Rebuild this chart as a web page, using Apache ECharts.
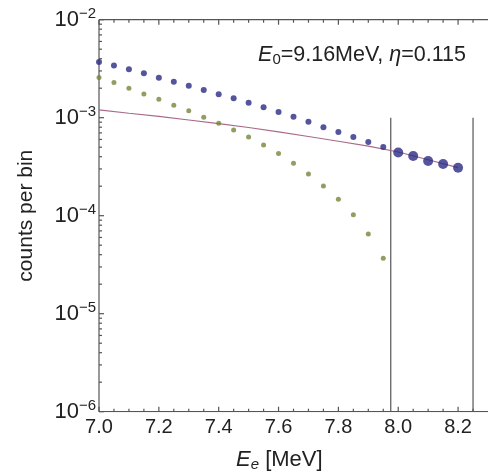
<!DOCTYPE html>
<html><head><meta charset="utf-8">
<script src="https://cdn.jsdelivr.net/npm/echarts@6/dist/echarts.min.js"></script>
<style>html,body{margin:0;padding:0;background:#fff}#c{width:488px;height:473px;background:#fff}</style>
</head><body><div id="c"></div>
<script>
// ---- data ----
const energies = [7.00, 7.05, 7.10, 7.15, 7.20, 7.25, 7.30, 7.35, 7.40, 7.45, 7.50, 7.55, 7.60, 7.65, 7.70, 7.75, 7.80, 7.85, 7.90, 7.95];
const blueCounts = [3.70e-3, 3.40e-3, 3.12e-3, 2.84e-3, 2.56e-3, 2.33e-3, 2.12e-3, 1.92e-3, 1.73e-3, 1.58e-3, 1.42e-3, 1.28e-3, 1.14e-3, 1.02e-3, 9.1e-4, 7.98e-4, 7.15e-4, 6.35e-4, 5.65e-4, 5.02e-4];
const greenCounts = [2.57e-3, 2.28e-3, 2.00e-3, 1.75e-3, 1.54e-3, 1.34e-3, 1.18e-3, 1.01e-3, 8.77e-4, 7.49e-4, 6.35e-4, 5.26e-4, 4.30e-4, 3.42e-4, 2.66e-4, 2.01e-4, 1.47e-4, 1.02e-4, 6.5e-5, 3.67e-5];
const windowEnergies = [8.00, 8.05, 8.10, 8.15, 8.20];
const windowCounts = [4.42e-4, 4.07e-4, 3.61e-4, 3.37e-4, 3.09e-4];
const curveEnergies = [7.0, 7.1, 7.2, 7.3, 7.4, 7.5, 7.6, 7.7, 7.8, 7.9, 8.0, 8.1, 8.2];
const curveCounts = [1.20e-3, 1.11e-3, 1.03e-3, 9.48e-4, 8.71e-4, 7.94e-4, 7.16e-4, 6.43e-4, 5.75e-4, 5.13e-4, 4.47e-4, 3.72e-4, 3.09e-4];
const cutEnergies = [7.975, 8.25];
const cutRange = [1e-6, 1e-3];
const xRange = [7.0, 8.3];
const xTickStep = 0.2;
const yRange = [1e-6, 1e-2];
const xMajorTicks = [7.0, 7.2, 7.4, 7.6, 7.8, 8.0, 8.2];
const xMinorTicks = [];
for (let i = 1; i <= 25; i++) { const v = +(7 + i * 0.05).toFixed(2); if (xMajorTicks.indexOf(v) < 0) xMinorTicks.push(v); }
const yMajorTicks = [1e-6, 1e-5, 1e-4, 1e-3, 1e-2];
const yMinorTicks = [];
for (let e = -6; e < -2; e++) for (let k = 2; k <= 9; k++) yMinorTicks.push(k * Math.pow(10, e));
const annotation = {E0: '9.16', eta: '0.115'};

const FONT = 'Liberation Sans';
const FRAME = '#555';
const pairs = (xs, ys) => xs.map((x, i) => [x, ys[i]]);
const chart = echarts.init(document.getElementById('c'), null, {renderer: 'canvas'});

function tickRenderer(dir, len) {
  return function (params, api) {
    const p = api.coord([api.value(0), api.value(1)]);
    let shape;
    if (dir === 'bottom') shape = {x1: p[0], y1: p[1], x2: p[0], y2: p[1] - len};
    else if (dir === 'top') shape = {x1: p[0], y1: p[1], x2: p[0], y2: p[1] + len};
    else shape = {x1: p[0], y1: p[1], x2: p[0] + len, y2: p[1]};
    return {type: 'line', shape: shape, style: {stroke: FRAME, lineWidth: 1.2}};
  };
}
function tickSeries(data, dir, len) {
  return {type: 'custom', renderItem: tickRenderer(dir, len), data: data, z: 1};
}
function frameSeries(data) {
  return {type: 'line', data: data, symbol: 'none', showSymbol: false, z: 1,
          lineStyle: {color: FRAME, width: 1.2}};
}

const option = {
  animation: false,
  grid: {left: 99, top: 19.7, width: 393, height: 392},
  xAxis: [{
    type: 'value', min: xRange[0], max: xRange[1], interval: xTickStep,
    axisLine: {show: false, onZero: false}, axisTick: {show: false},
    splitLine: {show: false},
    axisLabel: {showMaxLabel: false, margin: 6, fontFamily: FONT, fontSize: 20, color: '#222',
      formatter: v => v.toFixed(1)}
  }],
  yAxis: [{
    type: 'log', logBase: 10, min: yRange[0], max: yRange[1],
    axisLine: {show: false, onZero: false}, axisTick: {show: false},
    splitLine: {show: false},
    name: 'counts per bin', nameLocation: 'middle', nameGap: 62, nameRotate: 90,
    nameTextStyle: {fontFamily: FONT, fontSize: 21, color: '#222'},
    axisLabel: {margin: 3, fontFamily: FONT, color: '#222',
      formatter: v => '{b|10}{s|\u2212' + Math.round(-Math.log10(v)) + '}',
      rich: {b: {fontFamily: FONT, fontSize: 22, color: '#222'},
             s: {fontFamily: FONT, fontSize: 15, color: '#222', padding: [0, 0, 11, 0]}}}
  }],
  series: [
    // frame
    frameSeries([[xRange[0], yRange[0]], [xRange[1], yRange[0]]]),
    frameSeries([[xRange[0], yRange[1]], [xRange[1], yRange[1]]]),
    frameSeries([[xRange[0], yRange[0]], [xRange[0], yRange[1]]]),
    // ticks
    tickSeries(pairs(xMajorTicks, xMajorTicks.map(() => yRange[0])), 'bottom', 5),
    tickSeries(pairs(xMinorTicks, xMinorTicks.map(() => yRange[0])), 'bottom', 3),
    tickSeries(pairs(xMajorTicks, xMajorTicks.map(() => yRange[1])), 'top', 5),
    tickSeries(pairs(xMinorTicks, xMinorTicks.map(() => yRange[1])), 'top', 3),
    tickSeries(pairs(yMajorTicks.map(() => xRange[0]), yMajorTicks), 'left', 5),
    tickSeries(pairs(yMinorTicks.map(() => xRange[0]), yMinorTicks), 'left', 3),
    // data
    {type: 'line', data: pairs(curveEnergies, curveCounts), showSymbol: false, symbol: 'none',
     lineStyle: {color: '#a86a88', width: 1.2}, z: 2},
    {type: 'scatter', data: pairs(energies, blueCounts), symbolSize: 6,
     itemStyle: {color: '#2b2b85'}, z: 3},
    {type: 'scatter', data: pairs(energies, greenCounts), symbolSize: 5,
     itemStyle: {color: '#76843a'}, z: 3},
    {type: 'scatter', data: pairs(windowEnergies, windowCounts), symbolSize: 10,
     itemStyle: {color: '#2b2b85'}, z: 4},
    {type: 'line', data: [[cutEnergies[0], cutRange[0]], [cutEnergies[0], cutRange[1]]], symbol: 'none',
     lineStyle: {color: '#555', width: 1.2}, z: 1},
    {type: 'line', data: [[cutEnergies[1], cutRange[0]], [cutEnergies[1], cutRange[1]]], symbol: 'none',
     lineStyle: {color: '#555', width: 1.2}, z: 1}
  ],
  graphic: [
    {type: 'text', right: 22, top: 44, z: 10, style: {
      text: '{i|E}{sub|0}{n|=' + annotation.E0 + 'MeV, }{i|\u03b7}{n|=' + annotation.eta + '}',
      rich: {
        i: {fontFamily: FONT, fontStyle: 'italic', fontSize: 21.5, fill: '#222'},
        n: {fontFamily: FONT, fontSize: 21.5, fill: '#222'},
        sub: {fontFamily: FONT, fontSize: 15, fill: '#222', padding: [9, 0, 0, 0]}
      }}},
    {type: 'text', left: 236, top: 449, z: 10, style: {
      text: '{i|E}{sub|e}{n| [MeV]}',
      rich: {
        i: {fontFamily: FONT, fontStyle: 'italic', fontSize: 22, fill: '#222'},
        n: {fontFamily: FONT, fontSize: 22, fill: '#222'},
        sub: {fontFamily: FONT, fontStyle: 'italic', fontSize: 15, fill: '#222', padding: [9, 0, 0, 0]}
      }}}
  ]
};
chart.setOption(option);
</script></body></html>
